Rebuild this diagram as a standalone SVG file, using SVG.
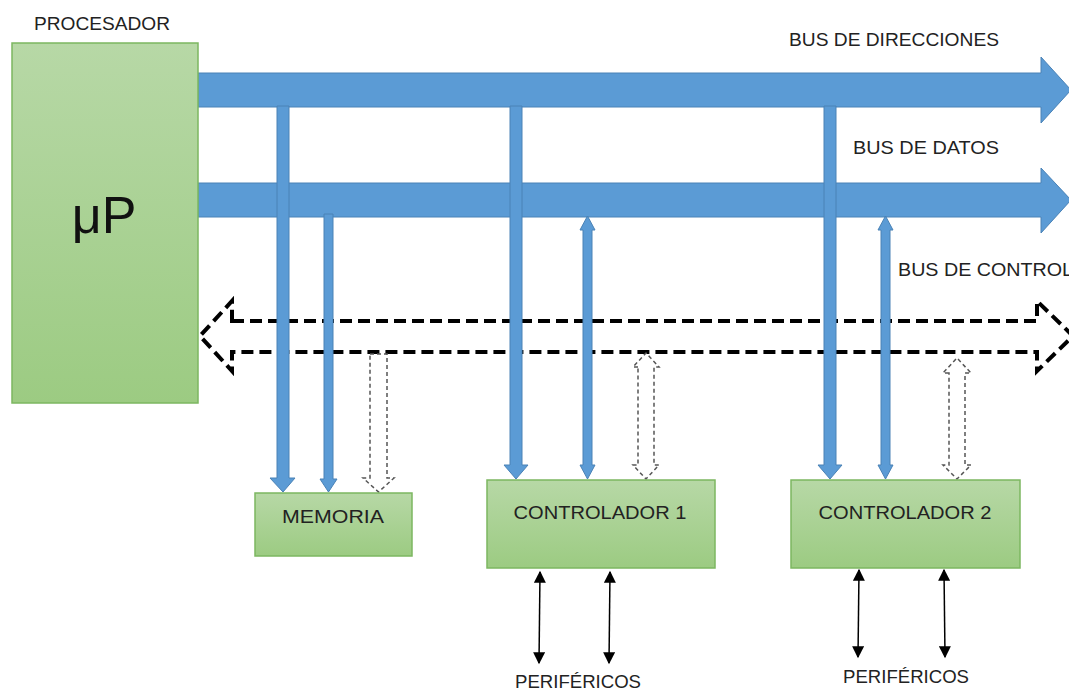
<svg xmlns="http://www.w3.org/2000/svg" width="1069" height="690" viewBox="0 0 1069 690">
  <defs>
    <linearGradient id="greenFill" x1="0" y1="0" x2="0" y2="1">
      <stop offset="0" stop-color="#b7d8a6"/>
      <stop offset="1" stop-color="#9ccb82"/>
    </linearGradient>
    <marker id="tri" viewBox="0 0 10 10" refX="9" refY="5" markerWidth="14" markerHeight="12" markerUnits="userSpaceOnUse" orient="auto-start-reverse">
      <path d="M0,0 L10,5 L0,10 Z" fill="#000"/>
    </marker>
    <style>
      .box { fill: url(#greenFill); stroke: #7cb760; stroke-width: 1.5; }
      .lbl { font-family: "Liberation Sans", Arial, sans-serif; font-size: 18px; fill: #222; }
      .blue { fill: #5b9bd5; stroke: #4a82b6; stroke-width: 1; }
      .ctrlbus { fill: none; stroke: #000; stroke-width: 4; stroke-dasharray: 12 6; }
      .ctrlv { fill: #fff; stroke: #555; stroke-width: 1.5; stroke-dasharray: 4 3; }
      .peri { stroke: #000; stroke-width: 1.5; fill: none; marker-start: url(#tri); marker-end: url(#tri); }
    </style>
  </defs>

  <!-- Buses from the processor -->
  <g id="connectors">
    <!-- address bus -->
    <path class="blue" d="M198,73 H1041 V57 L1071,90 L1041,123 V107 H198 Z"/>
    <!-- data bus -->
    <path class="blue" d="M198,183 H1041 V168 L1071,200 L1041,233 V217 H198 Z"/>
    <!-- control bus (bidirectional, dashed outline) -->
    <path class="ctrlbus" d="M232,321 H1037 V301 L1073,336 L1037,371 V352 H232 V371 L200,336 L232,301 Z"/>

    <!-- memory taps -->
    <path class="blue" d="M277,106 H289 V478 H295 L283,492 L270,478 H277 Z"/>
    <path class="blue" d="M324,214 H333 V479 H337 L328.5,492 L320,479 H324 Z"/>
    <path class="ctrlv" d="M370,354 H387 V478 H394 L378.5,492 L363,478 H370 Z"/>

    <!-- controller 1 taps -->
    <path class="blue" d="M510,106 H522 V465 H528 L516,479 L504,465 H510 Z"/>
    <path class="blue" d="M583,230 H580 L587.5,216 L595,230 H592 V465 H595 L587.5,479 L580,465 H583 Z"/>
    <path class="ctrlv" d="M638,367 H633 L646,353 L659,367 H654 V465 H659 L646,479 L633,465 H638 Z"/>

    <!-- controller 2 taps -->
    <path class="blue" d="M824,106 H836 V465 H842 L830,479 L818,465 H824 Z"/>
    <path class="blue" d="M881,230 H878 L885.5,216 L893,230 H890 V465 H893 L885.5,479 L878,465 H881 Z"/>
    <path class="ctrlv" d="M949,373 H943 L957,358 L971,373 H965 V465 H971 L957,479 L943,465 H949 Z"/>

    <!-- peripheral links -->
    <line class="peri" x1="540" y1="572" x2="539" y2="663"/>
    <line class="peri" x1="610" y1="572" x2="609" y2="663"/>
    <line class="peri" x1="859" y1="570" x2="858" y2="657"/>
    <line class="peri" x1="944" y1="570" x2="945" y2="657"/>
  </g>

  <!-- Processor -->
  <g id="procesador">
    <rect class="box" x="12" y="43" width="186" height="360"/>
    <text class="lbl" x="102" y="30" text-anchor="middle" textLength="136" lengthAdjust="spacingAndGlyphs">PROCESADOR</text>
    <text x="104" y="233" text-anchor="middle" font-family="'Liberation Sans', Arial, sans-serif" font-size="52" fill="#111">μP</text>
  </g>

  <!-- Memory -->
  <g id="memoria">
    <rect class="box" x="255" y="493" width="157" height="63"/>
    <text class="lbl" x="333" y="523" text-anchor="middle" textLength="102" lengthAdjust="spacingAndGlyphs">MEMORIA</text>
  </g>

  <!-- Controllers -->
  <g id="controlador1">
    <rect class="box" x="487" y="480" width="228" height="88"/>
    <text class="lbl" x="600" y="519" text-anchor="middle" textLength="173" lengthAdjust="spacingAndGlyphs">CONTROLADOR 1</text>
  </g>
  <g id="controlador2">
    <rect class="box" x="791" y="480" width="229" height="88"/>
    <text class="lbl" x="905" y="519" text-anchor="middle" textLength="173" lengthAdjust="spacingAndGlyphs">CONTROLADOR 2</text>
  </g>

  <!-- Bus labels -->
  <g id="bus-labels">
    <text class="lbl" x="789" y="46" textLength="210" lengthAdjust="spacingAndGlyphs">BUS DE DIRECCIONES</text>
    <text class="lbl" x="853" y="154" textLength="146" lengthAdjust="spacingAndGlyphs">BUS DE DATOS</text>
    <text class="lbl" x="898" y="276" textLength="175" lengthAdjust="spacingAndGlyphs">BUS DE CONTROL</text>
  </g>

  <!-- Peripheral labels -->
  <g id="perifericos">
    <text class="lbl" x="578" y="688" text-anchor="middle" textLength="126" lengthAdjust="spacingAndGlyphs">PERIFÉRICOS</text>
    <text class="lbl" x="906" y="683" text-anchor="middle" textLength="126" lengthAdjust="spacingAndGlyphs">PERIFÉRICOS</text>
  </g>
</svg>
